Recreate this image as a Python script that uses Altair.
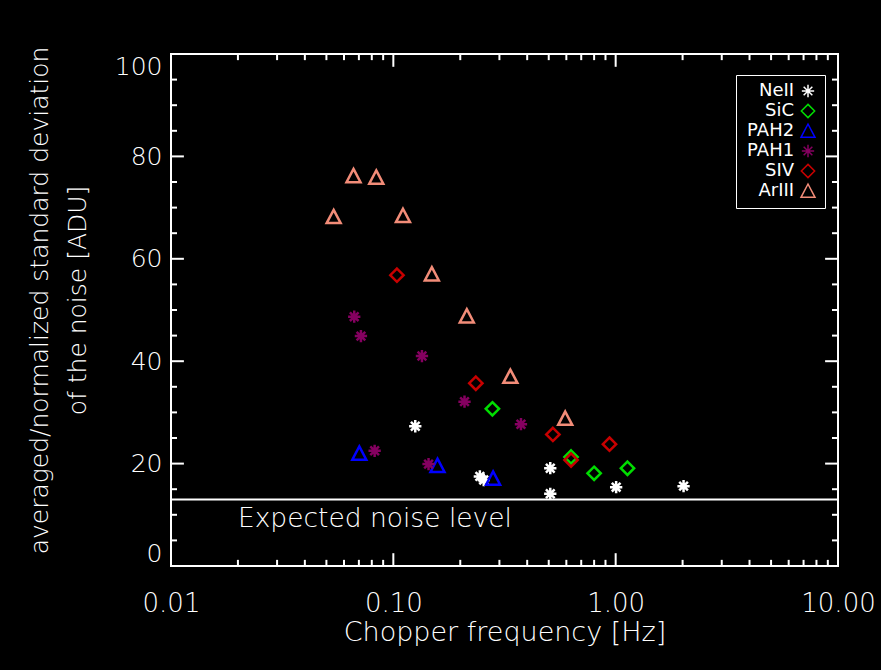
import altair as alt
import pandas as pd

# Chopper frequency [Hz] and averaged/normalized noise [ADU] per filter
neii_freq = [0.1255, 0.245, 0.255, 0.508, 0.508, 1.005, 2.02]
neii_noise = [27.3, 17.5, 16.8, 19.1, 14.1, 15.4, 15.6]
sic_freq = [0.279, 0.63, 0.80, 1.13]
sic_noise = [30.7, 21.3, 18.1, 19.1]
pah2_freq = [0.0703, 0.158, 0.281]
pah2_noise = [22.0, 19.6, 17.1]
pah1_freq = [0.0667, 0.0715, 0.0824, 0.1345, 0.144, 0.209, 0.375]
pah1_noise = [48.7, 44.9, 22.5, 41.0, 19.9, 32.1, 27.7]
siv_freq = [0.1038, 0.235, 0.522, 0.63, 0.938]
siv_noise = [56.8, 35.7, 25.7, 20.7, 23.8]
ariii_freq = [0.0539, 0.0662, 0.0838, 0.1105, 0.149, 0.214, 0.336, 0.593]
ariii_noise = [68.2, 76.2, 75.9, 68.4, 57.0, 48.8, 37.0, 28.8]

filters = ["NeII", "SiC", "PAH2", "PAH1", "SIV", "ArIII"]
colors = ["#ffffff", "#00dd00", "#0000ff", "#850060", "#c80000", "#f28c78"]

expected_noise = 13
expected_label = "Expected noise level"

x_major = [0.01, 0.1, 1, 10]
x_minor = [m * d for d in (0.01, 0.1, 1) for m in range(2, 10)]
y_major = [0, 20, 40, 60, 80, 100]
y_minor = [v for v in range(5, 100, 5) if v % 20]

X_MIN, X_MAX, Y_MIN, Y_MAX = 0.01, 10, 0, 100
# inward tick lengths: in y units for the x ticks, in decades for the y ticks
XT_MAJOR, XT_MINOR = 2.5, 1.2
YT_MAJOR, YT_MINOR = 0.058, 0.027

# symbol outlines (unit box -1..1)
ASTERISK = "M0,-0.88L0,0.88M-0.88,0L0.88,0M-0.62,-0.62L0.62,0.62M-0.62,0.62L0.62,-0.62"
DIAMOND = "M0,-0.95L0.95,0L0,0.95L-0.95,0Z"
TRIANGLE = "M0,-1L1,0.9L-1,0.9Z"
shapes = [ASTERISK, DIAMOND, TRIANGLE, ASTERISK, DIAMOND, TRIANGLE]

series = [
    ("NeII", neii_freq, neii_noise),
    ("SiC", sic_freq, sic_noise),
    ("PAH2", pah2_freq, pah2_noise),
    ("PAH1", pah1_freq, pah1_noise),
    ("SIV", siv_freq, siv_noise),
    ("ArIII", ariii_freq, ariii_noise),
]
rows = []
for name, fs, ns in series:
    for f, n in zip(fs, ns):
        rows.append({"filter": name, "freq": f, "noise": n})
df = pd.DataFrame(rows)

# tick segments along the four sides of the box
tick_rows = []
for vals, ln in ((x_major, XT_MAJOR), (x_minor, XT_MINOR)):
    for v in vals:
        tick_rows.append({"freq": v, "freq2": v, "noise": Y_MIN, "noise2": Y_MIN + ln})
        tick_rows.append({"freq": v, "freq2": v, "noise": Y_MAX, "noise2": Y_MAX - ln})
for vals, ln in ((y_major, YT_MAJOR), (y_minor, YT_MINOR)):
    for v in vals:
        tick_rows.append({"freq": X_MIN, "freq2": X_MIN * 10 ** ln, "noise": v, "noise2": v})
        tick_rows.append({"freq": X_MAX, "freq2": X_MAX / 10 ** ln, "noise": v, "noise2": v})
ticks_df = pd.DataFrame(tick_rows)

W, H = 667, 512
FONT = "DejaVu Sans"
PAD = "\u00a0" * 4 + "\u200b"

xscale = alt.Scale(type="log", domain=[X_MIN, X_MAX], nice=False)
yscale = alt.Scale(domain=[Y_MIN, Y_MAX], nice=False, zero=False)

# one axis definition per channel, shared by every layer
x_axis = alt.Axis(title="Chopper frequency [Hz]", values=x_major, format=".2f",
                  ticks=False, tickSize=0, domain=False, grid=False, labelFlush=False,
                  labelPadding=24, labelFontSize=26, titleFontSize=27, titleY=66,
                  titleBaseline="middle")
y_axis = alt.Axis(title=["averaged/normalized standard deviation", "of the noise [ADU]"],
                  values=y_major, ticks=False, tickSize=0, domain=False, grid=False,
                  labelFlush=True, labelPadding=9, labelFontSize=25, titleFontSize=25,
                  titleX=-119, titleY=246, titleLineHeight=38)

# legend: labels right-aligned (padded with no-break spaces) so they sit left of the symbols
legend = alt.Legend(
    title=None,
    orient="none",
    legendX=565,
    legendY=21,
    labelAlign="right",
    labelOffset=0,
    symbolOffset=56,
    labelExpr="datum.label + '" + PAD + "'",
    labelColor="white",
    labelFont=FONT,
    labelFontSize=18,
    labelFontWeight=400,
    symbolSize=196,
    symbolStrokeWidth=1.5,
    symbolFillColor="transparent",
    rowPadding=0,
    strokeColor="white",
    fillColor="black",
    padding=7,
)

points = alt.Chart(df).mark_point(filled=False, strokeWidth=2.5, size=196, opacity=1).encode(
    x=alt.X("freq:Q", scale=xscale, axis=x_axis),
    y=alt.Y("noise:Q", scale=yscale, axis=y_axis),
    color=alt.Color("filter:N", scale=alt.Scale(domain=filters, range=colors), legend=legend),
    shape=alt.Shape("filter:N", scale=alt.Scale(domain=filters, range=shapes), legend=legend),
    order=alt.Order("idx:Q"),
).transform_window(idx="row_number()")

box_ticks = alt.Chart(ticks_df).mark_rule(color="white", strokeWidth=2).encode(
    x=alt.X("freq:Q", scale=xscale, axis=x_axis),
    x2="freq2:Q",
    y=alt.Y("noise:Q", scale=yscale, axis=y_axis),
    y2="noise2:Q",
)

noise_line = alt.Chart(pd.DataFrame({"noise": [expected_noise]})).mark_rule(
    color="white", strokeWidth=2
).encode(y=alt.Y("noise:Q", scale=yscale, axis=y_axis))

noise_text = alt.Chart(pd.DataFrame({"freq": [0.02], "noise": [9.2], "t": [expected_label]})).mark_text(
    color="white", fontSize=26.5, font=FONT, align="left", baseline="middle", fontWeight=300
).encode(
    x=alt.X("freq:Q", scale=xscale, axis=x_axis),
    y=alt.Y("noise:Q", scale=yscale, axis=y_axis),
    text="t:N",
)

chart = alt.layer(points, box_ticks, noise_line, noise_text).properties(
    width=W, height=H,
    background="black",
    padding={"left": 171, "top": 54, "right": 43, "bottom": 104},
    autosize=alt.AutoSizeParams(type="none"),
).configure_view(
    stroke="white", strokeWidth=2, fill="black"
).configure_axis(
    labelColor="white", titleColor="white", labelFont=FONT, titleFont=FONT,
    labelFontWeight=300, titleFontWeight=300,
)

chart.save("out.html", embed_options={"renderer": "svg", "actions": False})
